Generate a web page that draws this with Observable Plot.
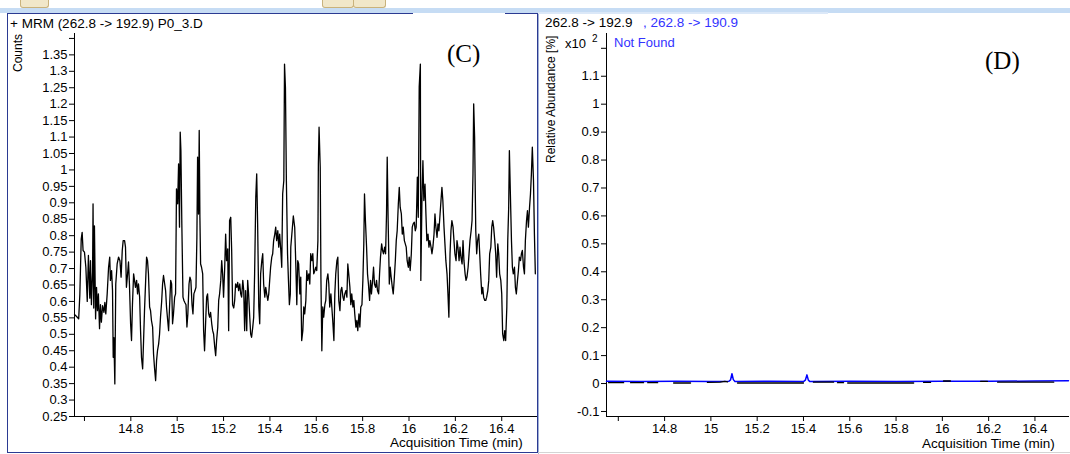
<!DOCTYPE html>
<html>
<head>
<meta charset="utf-8">
<script src="https://cdn.jsdelivr.net/npm/d3@7"></script>
<script src="https://cdn.jsdelivr.net/npm/@observablehq/plot@0.6"></script>
<style>
  html, body { margin: 0; padding: 0; background: #fff; }
  #wrap { position: relative; width: 1070px; height: 454px; overflow: hidden; background: #fff;
          font-family: "Liberation Sans", Arial, sans-serif; }
  .abs { position: absolute; white-space: nowrap; line-height: 1; }
  .rot { transform-origin: left top; transform: rotate(-90deg); }
</style>
</head>
<body>
<div id="wrap">
  <div class="abs" style="left:0;top:8px;width:1070px;height:5px;background:#c6dcf4"></div>
  <div class="abs" style="left:20px;top:0;width:27px;height:7px;background:#f1e7c9;border:1px solid #c9b27c;border-top:none;border-radius:0 0 3px 3px"></div>
  <div class="abs" style="left:322px;top:0;width:30px;height:7px;background:#f1e7c9;border:1px solid #c9b27c;border-top:none;border-radius:0 0 3px 3px"></div>
  <div class="abs" style="left:353px;top:0;width:31px;height:7px;background:#f1e7c9;border:1px solid #c9b27c;border-top:none;border-radius:0 0 3px 3px"></div>
  <div id="c" class="abs" style="left:0;top:0"></div>
  <div id="d" class="abs" style="left:538px;top:0"></div>
  <div class="abs" style="left:7px;top:13px;width:529px;height:438px;border:1px solid #2b3a92"></div>
  <div class="abs" style="left:413px;top:13px;width:92px;height:1px;background:#fff"></div>
  <div class="abs" style="left:538px;top:12px;width:1px;height:442px;background:#9fb0d6"></div>
  <div class="abs" style="left:538px;top:12px;width:290px;height:2px;background:#dbe8f8"></div>
  <div class="abs" style="left:538px;top:452px;width:532px;height:1px;background:#d4d4d4"></div>

  <div class="abs" style="left:10px;top:17px;font-size:13.5px;color:#000">+ MRM (262.8 -&gt; 192.9) P0_3.D</div>
  <div class="abs rot" style="left:12px;top:72px;font-size:12px;color:#000">Counts</div>
  <div class="abs" style="left:447px;top:41px;font-size:25px;font-family:'Liberation Serif','Times New Roman',serif;color:#000">(C)</div>
  <div class="abs" style="left:390px;top:436px;font-size:13.5px;color:#000">Acquisition Time (min)</div>

  <div class="abs" style="left:545px;top:16px;font-size:13.5px;color:#000">262.8 -&gt; 192.9</div>
  <div class="abs" style="left:643px;top:16px;font-size:13.5px;color:#3333ff">, 262.8 -&gt; 190.9</div>
  <div class="abs rot" style="left:545px;top:163px;font-size:12px;color:#000">Relative Abundance [%]</div>
  <div class="abs" style="left:565px;top:37px;font-size:13px;color:#000">x10</div>
  <div class="abs" style="left:592px;top:34px;font-size:10px;color:#000">2</div>
  <div class="abs" style="left:614px;top:36px;font-size:13px;color:#3333ff">Not Found</div>
  <div class="abs" style="left:985px;top:48px;font-size:25px;font-family:'Liberation Serif','Times New Roman',serif;color:#000">(D)</div>
  <div class="abs" style="left:922px;top:437px;font-size:13.5px;color:#000">Acquisition Time (min)</div>
</div>
<script>
// ---- data ----
const timeTicks = [14.6, 14.8, 15, 15.2, 15.4, 15.6, 15.8, 16, 16.2, 16.4];
const countTicks = [0.25, 0.3, 0.35, 0.4, 0.45, 0.5, 0.55, 0.6, 0.65, 0.7, 0.75, 0.8, 0.85, 0.9, 0.95, 1, 1.05, 1.1, 1.15, 1.2, 1.25, 1.3, 1.35, 1.4];
const abundanceTicks = [-0.1, 0, 0.1, 0.2, 0.3, 0.4, 0.5, 0.6, 0.7, 0.8, 0.9, 1, 1.1, 1.2];

// Panel C: MRM 262.8 -> 192.9, [time (min), counts]
const traceC = [
[14.557,0.56],[14.565,0.555],[14.575,0.547],[14.580,0.62],[14.586,0.79],[14.590,0.81],[14.594,0.755],[14.600,0.75],[14.606,0.704],[14.612,0.60],
[14.617,0.74],[14.623,0.61],[14.626,0.724],[14.630,0.59],[14.635,0.69],[14.637,0.897],[14.640,0.58],[14.643,0.83],[14.648,0.547],[14.652,0.643],
[14.656,0.572],[14.660,0.623],[14.665,0.517],[14.669,0.59],[14.673,0.537],[14.678,0.587],[14.684,0.567],[14.688,0.597],[14.692,0.562],[14.698,0.623],
[14.704,0.704],[14.709,0.735],[14.712,0.664],[14.717,0.694],[14.721,0.633],[14.724,0.43],[14.727,0.49],[14.731,0.349],[14.735,0.653],[14.741,0.714],
[14.747,0.735],[14.753,0.724],[14.758,0.674],[14.763,0.755],[14.767,0.785],[14.773,0.785],[14.777,0.765],[14.781,0.643],[14.786,0.684],[14.790,0.72],
[14.794,0.653],[14.799,0.532],[14.803,0.481],[14.807,0.59],[14.812,0.684],[14.816,0.664],[14.820,0.643],[14.825,0.664],[14.829,0.623],[14.833,0.653],
[14.838,0.613],[14.842,0.511],[14.846,0.43],[14.851,0.395],[14.855,0.481],[14.859,0.572],[14.864,0.664],[14.868,0.735],[14.872,0.724],[14.876,0.684],
[14.881,0.583],[14.885,0.572],[14.889,0.542],[14.894,0.522],[14.898,0.44],[14.902,0.40],[14.907,0.359],[14.911,0.42],[14.915,0.45],[14.920,0.471],
[14.924,0.501],[14.928,0.552],[14.933,0.60],[14.937,0.653],[14.941,0.679],[14.946,0.653],[14.950,0.633],[14.954,0.583],[14.959,0.542],[14.963,0.511],
[14.967,0.583],[14.972,0.664],[14.976,0.653],[14.980,0.532],[14.984,0.562],[14.989,0.613],[14.993,0.623],[14.997,0.942],[15.002,0.897],[15.006,1.018],
[15.010,0.826],[15.013,1.115],[15.016,1.059],[15.020,0.836],[15.025,0.613],[15.029,0.603],[15.033,0.597],[15.038,0.59],[15.042,0.522],[15.046,0.562],
[15.051,0.653],[15.055,0.674],[15.059,0.664],[15.064,0.59],[15.068,0.562],[15.072,0.623],[15.077,0.633],[15.081,0.643],[15.085,0.795],[15.088,1.039],
[15.092,0.866],[15.095,1.12],[15.098,0.856],[15.101,0.714],[15.105,0.704],[15.110,0.684],[15.114,0.511],[15.118,0.45],[15.123,0.542],[15.127,0.613],
[15.131,0.623],[15.136,0.562],[15.140,0.552],[15.144,0.567],[15.149,0.532],[15.153,0.511],[15.157,0.501],[15.162,0.461],[15.166,0.435],[15.170,0.481],
[15.175,0.522],[15.179,0.603],[15.183,0.623],[15.188,0.664],[15.192,0.724],[15.196,0.684],[15.200,0.613],[15.205,0.704],[15.209,0.805],[15.213,0.724],
[15.218,0.76],[15.222,0.511],[15.226,0.846],[15.231,0.856],[15.235,0.755],[15.239,0.59],[15.244,0.58],[15.248,0.603],[15.252,0.653],[15.257,0.643],
[15.261,0.658],[15.265,0.633],[15.270,0.653],[15.274,0.623],[15.278,0.613],[15.283,0.664],[15.287,0.633],[15.291,0.511],[15.295,0.633],[15.300,0.511],
[15.304,0.664],[15.308,0.623],[15.313,0.552],[15.317,0.501],[15.321,0.491],[15.326,0.522],[15.330,0.552],[15.334,0.684],[15.339,0.917],[15.343,0.988],
[15.347,0.836],[15.352,0.583],[15.356,0.532],[15.360,0.684],[15.365,0.724],[15.369,0.745],[15.373,0.653],[15.378,0.613],[15.382,0.643],[15.386,0.623],
[15.391,0.603],[15.395,0.623],[15.399,0.664],[15.403,0.704],[15.408,0.735],[15.412,0.745],[15.416,0.785],[15.421,0.805],[15.425,0.826],[15.429,0.785],
[15.434,0.815],[15.438,0.765],[15.442,0.805],[15.447,0.755],[15.451,0.704],[15.455,0.927],[15.460,0.968],[15.463,1.322],[15.467,1.25],[15.471,0.968],
[15.476,0.745],[15.480,0.664],[15.484,0.59],[15.488,0.623],
[15.490,0.765],[15.501,0.86],[15.507,0.825],[15.512,0.704],[15.516,0.59],[15.520,0.724],[15.524,0.714],[15.529,0.623],[15.533,0.674],[15.537,0.481],
[15.542,0.511],[15.546,0.583],[15.550,0.562],[15.555,0.603],[15.559,0.694],[15.563,0.664],[15.568,0.684],[15.572,0.653],[15.576,0.745],[15.581,0.724],
[15.585,0.745],[15.589,0.684],[15.594,0.694],[15.598,0.704],[15.602,0.694],[15.607,0.785],[15.609,1.018],[15.612,1.13],[15.617,1.008],[15.620,0.674],
[15.624,0.45],[15.628,0.583],[15.632,0.552],[15.637,0.59],[15.641,0.603],[15.645,0.664],[15.650,0.684],[15.654,0.653],[15.658,0.583],[15.663,0.623],
[15.667,0.583],[15.671,0.542],[15.676,0.481],[15.680,0.623],[15.684,0.684],[15.689,0.724],[15.693,0.735],[15.697,0.603],[15.702,0.572],[15.706,0.633],
[15.710,0.643],[15.715,0.613],[15.719,0.603],[15.723,0.623],[15.728,0.633],[15.732,0.613],[15.736,0.714],[15.740,0.684],[15.745,0.643],[15.749,0.59],
[15.753,0.623],[15.758,0.583],[15.762,0.603],[15.766,0.562],[15.771,0.522],[15.775,0.542],[15.779,0.511],[15.784,0.562],[15.788,0.522],[15.792,0.583],
[15.797,0.59],[15.801,0.664],[15.805,0.775],[15.808,0.927],[15.812,0.846],[15.817,0.765],[15.821,0.684],[15.825,0.653],[15.830,0.603],[15.834,0.664],
[15.838,0.623],[15.843,0.664],[15.847,0.704],[15.851,0.653],[15.856,0.643],[15.860,0.664],[15.864,0.633],[15.869,0.623],[15.873,0.684],[15.877,0.735],
[15.882,0.775],[15.886,0.755],[15.890,0.745],[15.895,0.765],[15.899,0.745],[15.903,0.866],[15.906,1.039],[15.910,0.846],[15.915,0.653],[15.919,0.704],
[15.923,0.674],[15.928,0.643],[15.932,0.623],[15.936,0.664],[15.941,0.724],[15.945,0.785],[15.949,0.815],[15.954,0.897],[15.958,0.947],[15.962,0.886],
[15.967,0.866],[15.971,0.805],[15.975,0.826],[15.980,0.785],[15.984,0.775],[15.988,0.765],[15.992,0.724],[15.997,0.704],[16.001,0.735],[16.005,0.694],
[16.010,0.745],[16.014,0.826],[16.018,0.836],[16.023,0.841],[16.027,0.815],[16.031,0.826],[16.036,0.978],[16.040,0.856],[16.044,1.252],[16.049,1.322],
[16.051,0.664],[16.056,0.917],[16.060,1.028],[16.064,0.907],[16.069,0.957],[16.073,0.866],[16.077,0.785],[16.082,0.805],[16.086,0.765],[16.090,0.785],
[16.095,0.765],[16.099,0.745],[16.103,0.765],[16.108,0.805],[16.112,0.866],[16.116,0.826],[16.121,0.795],[16.125,0.836],[16.129,0.815],[16.134,0.866],
[16.138,0.907],[16.142,0.947],[16.146,0.907],[16.151,0.826],[16.155,0.775],[16.159,0.724],[16.164,0.684],[16.168,0.623],[16.172,0.552],[16.177,0.745],
[16.181,0.815],[16.185,0.846],[16.190,0.826],[16.194,0.785],[16.198,0.745],[16.203,0.724],[16.207,0.785],[16.211,0.765],[16.216,0.724],[16.220,0.765],
[16.224,0.735],[16.229,0.714],[16.233,0.785],[16.237,0.724],[16.242,0.684],[16.246,0.664],[16.250,0.674],[16.255,0.704],[16.259,0.745],[16.263,0.785],
[16.268,0.815],[16.272,0.846],[16.276,0.988],[16.279,1.201],[16.283,1.10],[16.288,0.815],[16.292,0.745],[16.296,0.785],[16.301,0.805],[16.305,0.745],
[16.309,0.684],[16.314,0.623],[16.318,0.643],[16.322,0.613],[16.327,0.603],[16.331,0.603],[16.335,0.613],[16.340,0.633],[16.344,0.664],[16.348,0.745],
[16.353,0.765],[16.357,0.826],[16.361,0.846],[16.365,0.826],[16.370,0.785],[16.374,0.745],[16.378,0.674],[16.383,0.775],[16.387,0.745],[16.391,0.684],
[16.396,0.664],[16.400,0.623],[16.404,0.501],[16.409,0.481],[16.413,0.511],[16.417,0.481],[16.422,0.583],[16.426,0.785],[16.430,0.886],[16.433,1.059],
[16.437,0.937],[16.442,0.785],[16.446,0.704],[16.450,0.684],[16.455,0.704],[16.459,0.643],[16.463,0.623],[16.468,0.664],[16.472,0.694],[16.476,0.735],
[16.481,0.724],[16.485,0.745],[16.489,0.755],[16.494,0.704],[16.498,0.684],[16.502,0.785],[16.507,0.846],[16.511,0.876],[16.515,0.826],[16.520,0.886],
[16.524,0.927],[16.528,0.988],[16.532,1.069],[16.537,0.968],[16.541,0.805],[16.545,0.684]
];

// Panel D: 262.8 -> 190.9 (blue), [time, relative abundance x10^2]
const traceD = [
[14.549,0.008],[14.70,0.007],[14.85,0.008],[15.00,0.007],[15.078,0.008],[15.085,0.013],[15.091,0.035],[15.097,0.014],[15.104,0.007],
[15.25,0.008],[15.40,0.007],[15.408,0.012],[15.415,0.031],[15.421,0.012],[15.428,0.007],[15.60,0.008],[15.80,0.007],
[16.00,0.008],[16.20,0.008],[16.40,0.009],[16.545,0.010]
];
// Panel D: 262.8 -> 192.9 (black) visible fragments, [time, value, fragment]
const traceDblack = [
[14.558,0.003,1],[14.623,0.003,1],[14.653,0.003,2],[14.709,0.003,2],[14.727,0.003,3],[14.770,0.003,3],
[14.839,0.002,4],[14.912,0.002,4],[14.985,0.004,5],[15.040,0.005,5],[15.060,0.008,5],[15.072,0.006,5],
[15.115,0.002,6],[15.400,0.002,6],[15.443,0.005,7],[15.530,0.005,7],[15.547,0.003,8],[15.573,0.003,8],
[15.591,0.002,9],[15.876,0.002,9],[15.919,0.004,10],[15.949,0.004,10],[16.005,0.009,11],[16.035,0.009,11],
[16.165,0.008,12],[16.195,0.008,12],[16.239,0.005,13],[16.481,0.005,13]
];

const fmt = d => String(+(+d).toFixed(2));
const font = {background: "transparent", fontFamily: "'Liberation Sans', Arial, sans-serif", fontSize: "13px", color: "#000", overflow: "visible"};

const chartC = Plot.plot({
  width: 540, height: 454,
  marginLeft: 74, marginRight: 4, marginTop: 33, marginBottom: 38,
  style: font,
  x: {domain: [14.557, 16.55], ticks: timeTicks, tickFormat: d => d === 14.6 ? "" : fmt(d), tickSize: 5, tickPadding: 2, label: null},
  y: {domain: [0.25, 1.415], ticks: countTicks, tickFormat: d => d === 1.4 ? "" : fmt(d), tickSize: 5, tickPadding: 2, label: null},
  marks: [
    Plot.frame({anchor: "left", stroke: "#000"}),
    Plot.frame({anchor: "bottom", stroke: "#000"}),
    Plot.line(traceC, {x: d => d[0], y: d => d[1], stroke: "#000", strokeWidth: 1.3})
  ]
});
document.getElementById("c").appendChild(chartC);

const chartD = Plot.plot({
  width: 532, height: 454,
  marginLeft: 68, marginRight: 2, marginTop: 33, marginBottom: 38,
  style: font,
  x: {domain: [14.549, 16.545], ticks: timeTicks, tickFormat: d => d === 14.6 ? "" : fmt(d), tickSize: 5, tickPadding: 2, label: null},
  y: {domain: [-0.118, 1.253], ticks: abundanceTicks, tickFormat: d => d === 1.2 ? "" : fmt(d), tickSize: 5, tickPadding: 2, label: null},
  marks: [
    Plot.frame({anchor: "left", stroke: "#000"}),
    Plot.frame({anchor: "bottom", stroke: "#000"}),
    Plot.line(traceD, {x: d => d[0], y: d => d[1], stroke: "#0000ff", strokeWidth: 1.5}),
    Plot.line(traceDblack, {x: d => d[0], y: d => d[1], z: d => d[2], stroke: "#000", strokeWidth: 1.3})
  ]
});
document.getElementById("d").appendChild(chartD);
</script>
</body>
</html>
